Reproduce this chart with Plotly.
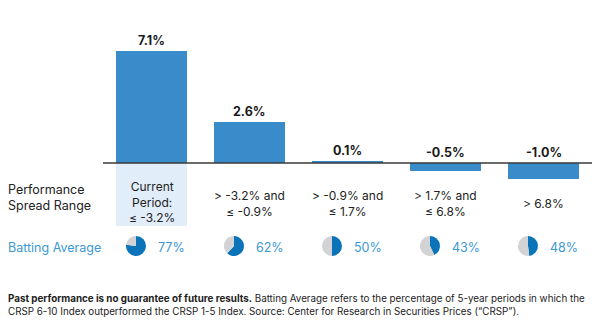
import plotly.graph_objects as go

categories = ["Current<br>Period:<br>≤ -3.2%", "> -3.2% and<br>≤ -0.9%", "> -0.9% and<br>≤ 1.7%",
              "> 1.7% and<br>≤ 6.8%", "> 6.8%"]
spread_values = [7.1, 2.6, 0.1, -0.5, -1.0]
spread_labels = ["7.1%", "2.6%", "0.1%", "-0.5%", "-1.0%"]
batting_avg = [77, 62, 50, 43, 48]
batting_labels = ["77%", "62%", "50%", "43%", "48%"]

W, H = 602, 329
FONT = "Inter"
BAR = "#3a8bca"
PIE_BLUE = "#0b74b8"
PIE_GRAY = "#d3d3d5"
TXT_BLUE = "#3a98d4"

# pixel mapping
x0px, dxpx = 151.5, 98.0
base_px, ppu = 163.0, 15.8
xr = [-x0px / dxpx, (W - x0px) / dxpx]
yr = [-(H - base_px) / ppu, base_px / ppu]

xs = list(range(len(categories)))

fig = go.Figure()
fig.add_trace(go.Bar(x=xs, y=spread_values, width=0.724, marker=dict(color=BAR, line=dict(width=0)),
                     hoverinfo="skip", showlegend=False))

def px2x(p):
    return (p - x0px) / dxpx

def py2paper(p):
    return 1 - p / H

shapes = []
shapes.append(dict(type="rect", xref="x", yref="paper", x0=-0.362, x1=0.362,
                   y0=py2paper(226), y1=py2paper(base_px), fillcolor="#e1edf9", line=dict(width=0), layer="below"))
shapes.append(dict(type="line", xref="x", yref="y", x0=px2x(103), x1=px2x(592), y0=0, y1=0,
                   line=dict(color="#3a3a3a", width=1.5)))

ann = []
for i, (v, lab) in enumerate(zip(spread_values, spread_labels)):
    ann.append(dict(x=i, y=max(v, 0), xref="x", yref="y", text="<b>%s</b>" % lab, showarrow=False,
                    yanchor="bottom", yshift=1, font=dict(family=FONT, size=12.5, color="#1a1a1a")))
for i, c in enumerate(categories):
    ann.append(dict(x=i, y=py2paper(202 if i == 0 else 203), xref="x", yref="paper", text=c, showarrow=False,
                    yanchor="middle", font=dict(family=FONT, size=12, color="#222222")))
ann.append(dict(x=6 / W, y=py2paper(197), xref="paper", yref="paper", text="Performance<br>Spread Range",
                showarrow=False, xanchor="left", yanchor="middle", align="left",
                font=dict(family=FONT, size=12.5, color="#222222")))
ann.append(dict(x=6 / W, y=py2paper(247.5), xref="paper", yref="paper", text="Batting Average",
                showarrow=False, xanchor="left", yanchor="middle", align="left",
                font=dict(family=FONT, size=12.5, color=TXT_BLUE)))
for i, lab in enumerate(batting_labels):
    ann.append(dict(x=i, y=py2paper(247.5), xref="x", yref="paper", text=lab, showarrow=False,
                    xanchor="left", xshift=4, yanchor="middle",
                    font=dict(family=FONT, size=12.5, color=TXT_BLUE)))
ann.append(dict(x=6 / W, y=py2paper(305), xref="paper", yref="paper",
                text="<b>Past performance is no guarantee of future results.</b> Batting Average refers to the percentage of 5-year periods in which the<br>"
                     "CRSP 6-10 Index outperformed the CRSP 1-5 Index. Source: Center for Research in Securities Prices (\u201cCRSP\u201d).",
                showarrow=False, xanchor="left", yanchor="middle", align="left",
                font=dict(family=FONT, size=9.8, color="#222222")))

r = 10
for i, v in enumerate(batting_avg):
    cx = x0px + dxpx * i - 15.5
    cy = 246
    fig.add_trace(go.Pie(values=[v, 100 - v], sort=False, direction="clockwise", rotation=0,
                         marker=dict(colors=[PIE_BLUE, PIE_GRAY], line=dict(width=0)),
                         textinfo="none", hoverinfo="skip", showlegend=False,
                         domain=dict(x=[(cx - r) / W, (cx + r) / W], y=[1 - (cy + r) / H, 1 - (cy - r) / H])))

fig.update_layout(width=W, height=H, margin=dict(l=0, r=0, t=0, b=0),
                  paper_bgcolor="white", plot_bgcolor="white",
                  xaxis=dict(range=xr, visible=False, fixedrange=True),
                  yaxis=dict(range=yr, visible=False, fixedrange=True),
                  shapes=shapes, annotations=ann, bargap=0)
fig.write_html("out.html")
